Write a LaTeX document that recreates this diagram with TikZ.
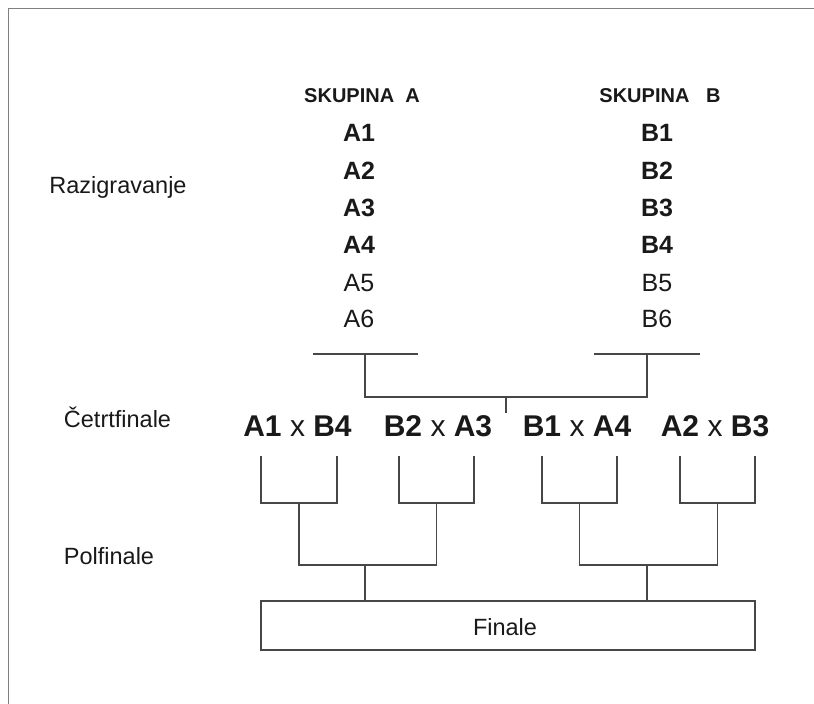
\documentclass[tikz,border=0pt]{standalone}
\usepackage{fontspec}
\setmainfont{Liberation Sans}
\usetikzlibrary{calc}
\newcommand\fsz[1]{\fontsize{#1}{#1}\selectfont}
\begin{document}
\begin{tikzpicture}[x=1pt,y=-1pt,
  lab/.style={inner sep=0pt, text height=16.8pt, text depth=0pt, font=\fsz{23.5}, text=black!90},
  team/.style={inner sep=0pt, text height=18pt, text depth=0pt, font=\fsz{25}\bfseries, text=black!90},
  teamr/.style={inner sep=0pt, text height=18pt, text depth=0pt, font=\fsz{25}, text=black!90},
  grp/.style={inner sep=0pt, text height=14.3pt, text depth=0pt, font=\fsz{20}\bfseries, text=black!90},
  qf/.style={inner sep=0pt, text height=21.5pt, text depth=0pt, font=\fsz{30}, text=black!90},
  link/.style={line width=1.3pt, draw=black!72},
  frame/.style={line width=1pt, draw=black!50}]
\useasboundingbox (0,0) rectangle (814,704);
\fill[white] (0,0) rectangle (814,704);
% frame
\coordinate (f1) at (8,704);
\coordinate (f2) at (8,8);
\coordinate (f3) at (814,8);
\draw[frame] (f1) -- (f2) -- (f3);

% group headers
\node[grp] (ga) at (362,95) {SKUPINA\ \ A};
\node[grp] (gb) at (660,95) {SKUPINA\ \ \ B};

% lists
\node[team]  (a1) at (359,132) {A1};
\node[team]  (a2) at (359,170) {A2};
\node[team]  (a3) at (359,207) {A3};
\node[team]  (a4) at (359,244) {A4};
\node[teamr] (a5) at (359,282) {A5};
\node[teamr] (a6) at (359,318) {A6};
\node[team]  (b1) at (657,132) {B1};
\node[team]  (b2) at (657,170) {B2};
\node[team]  (b3) at (657,207) {B3};
\node[team]  (b4) at (657,244) {B4};
\node[teamr] (b5) at (657,282) {B5};
\node[teamr] (b6) at (657,318) {B6};

% stage labels
\node[lab] (raz) at (118,185.5) {Razigravanje};
\node[lab] (cet) at (117.5,419) {Četrtfinale};
\node[lab] (pol) at (109,556.5) {Polfinale};

% group lines
\coordinate (al) at (313,354);
\coordinate (ar) at (418,354);
\coordinate (am) at (365,354);
\coordinate (bl) at (594,354);
\coordinate (br) at (700,354);
\coordinate (bm) at (647,354);
\coordinate (ad) at (365,397);
\coordinate (bd) at (647,397);
\coordinate (mid) at (506,397);
\coordinate (tick) at (506,413);
\draw[link] (al) -- (ar);
\draw[link] (bl) -- (br);
\draw[link] (am) -- (ad) -- (bd) -- (bm);
\draw[link] (mid) -- (tick);

% quarterfinals
\node[qf] (q1) at (297.5,425.5) {\textbf{A1} x \textbf{B4}};
\node[qf] (q2) at (438,425.5) {\textbf{B2} x \textbf{A3}};
\node[qf] (q3) at (577,425.5) {\textbf{B1} x \textbf{A4}};
\node[qf] (q4) at (715,425.5) {\textbf{A2} x \textbf{B3}};

% quarterfinal brackets
\coordinate (q1l) at (261,456); \coordinate (q1r) at (337,456);
\coordinate (q2l) at (399,456); \coordinate (q2r) at (474,456);
\coordinate (q3l) at (542,456); \coordinate (q3r) at (617,456);
\coordinate (q4l) at (680,456); \coordinate (q4r) at (755,456);
\coordinate (q1b) at (299,503);
\coordinate (q2b) at (436.5,503);
\coordinate (q3b) at (579.5,503);
\coordinate (q4b) at (717.5,503);
\draw[link] (q1l) |- (q1b) -| (q1r);
\draw[link] (q2l) |- (q2b) -| (q2r);
\draw[link] (q3l) |- (q3b) -| (q3r);
\draw[link] (q4l) |- (q4b) -| (q4r);

% semifinal brackets
\coordinate (s1) at (365,565);
\coordinate (s2) at (647,565);
\draw[link] (q1b) |- (s1) -| (q2b);
\draw[link] (q3b) |- (s2) -| (q4b);

% final
\node[draw=black!72, line width=1.3pt, minimum width=494pt, minimum height=49pt, inner sep=0pt] (fin) at (508,625.5) {};
\node[lab] (fint) at (505,627) {Finale};
\draw[link] (s1) -- (s1 |- fin.north);
\draw[link] (s2) -- (s2 |- fin.north);
\end{tikzpicture}
\end{document}
